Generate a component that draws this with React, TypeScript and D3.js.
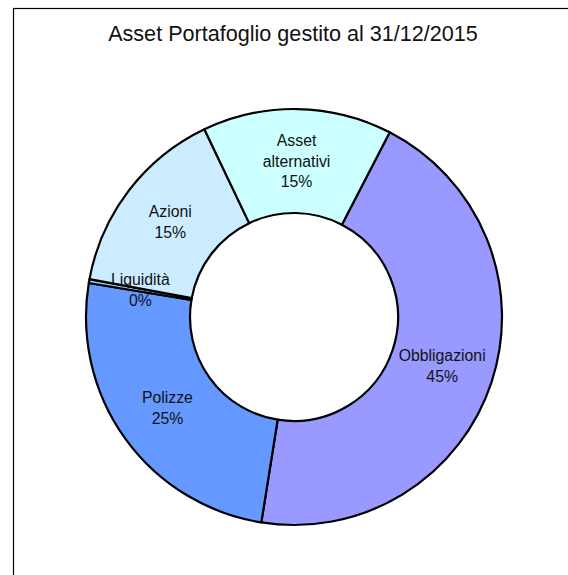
import React from "react";
import * as d3 from "d3";

const categories = ["Obbligazioni", "Polizze", "Liquidità", "Azioni", "Asset alternativi"];
const values = [44.9, 25.1, 0.3, 15.0, 14.7];
const labelLines = [["Obbligazioni"], ["Polizze"], ["Liquidità"], ["Azioni"], ["Asset", "alternativi"]];
const colors = ["#9999FF", "#6699FF", "#99CCFF", "#CCECFF", "#CCFFFF"];
const title = "Asset Portafoglio gestito al 31/12/2015";

export default function App() {
  const W = 568, H = 575;
  const cx = 294, cy = 317;
  const outerR = 208, innerR = 104;
  const start = (27.4 * Math.PI) / 180;
  const total = d3.sum(values);
  const pie = d3.pie<number>().sort(null).value((d) => d).startAngle(start).endAngle(start + 2 * Math.PI);
  const arcs = pie(values);
  const arc = d3.arc<d3.PieArcDatum<number>>().innerRadius(innerR).outerRadius(outerR);
  const labelArc = d3.arc<d3.PieArcDatum<number>>().innerRadius(156).outerRadius(156);
  const lh = 20.7;
  return (
    <svg width={W} height={H} style={{ position: "absolute", left: 0, top: 0 }} fontFamily="'Liberation Sans', Arial, sans-serif">
      <rect x={0} y={0} width={W} height={H} fill="#fff" />
      <rect x={13.5} y={8.5} width={700} height={700} fill="none" stroke="#000" strokeWidth={1.2} />
      <text x={293} y={41} textAnchor="middle" fontSize={21.6} fill="#111">{title}</text>
      <g transform={`translate(${cx},${cy})`}>
        {arcs.map((a, i) => (
          <path key={categories[i]} d={arc(a) as string} fill={colors[i]} stroke="#000" strokeWidth={2.2} strokeLinejoin="round" />
        ))}
        {arcs.map((a, i) => {
          const [lx, ly] = labelArc.centroid(a);
          const lines = [...labelLines[i], `${Math.round((values[i] / total) * 100)}%`];
          const y0 = ly - ((lines.length - 1) * lh) / 2;
          return (
            <text key={"t" + i} textAnchor="middle" fontSize={15.8} fill="#111">
              {lines.map((l, j) => (
                <tspan key={j} x={lx} y={y0 + j * lh} dy="0.35em">{l}</tspan>
              ))}
            </text>
          );
        })}
      </g>
    </svg>
  );
}
